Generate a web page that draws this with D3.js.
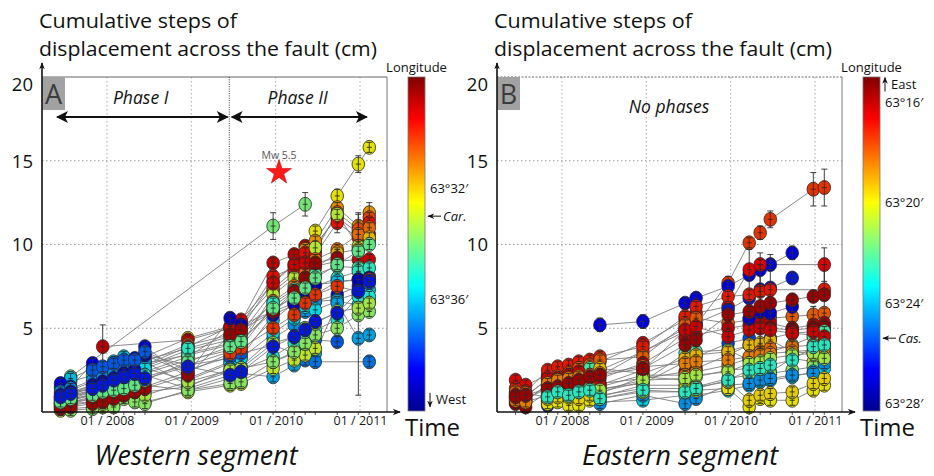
<!DOCTYPE html>
<html>
<head>
<meta charset="utf-8">
<script src="https://cdn.jsdelivr.net/npm/d3@7"></script>
<style>
  body { margin: 0; background: #fff; }
  svg { display: block; }
</style>
</head>
<body>
<svg id="fig" width="934" height="476"></svg>
<script>
// survey epochs (decimal year), shared by both segments
let epochs = [2007.45, 2007.57, 2007.83, 2007.95, 2008.08, 2008.20, 2008.33, 2008.45, 2008.96,
              2009.46, 2009.59, 2009.97, 2010.22, 2010.35, 2010.47, 2010.73, 2010.98, 2011.11];
let yearTicks = [2008, 2009, 2010, 2011];
let yTicks = [5, 10, 15, 20];

// western segment: colour position on the longitude bar (0 = west, 1 = east) and cumulative steps (cm)
let westLon = [0.63, 0.50, 0.92, 0.72, 0.80, 0.86, 0.57, 0.76, 0.68, 0.90, 0.45, 0.42, 0.33, 0.12,
               0.28, 0.36, 0.08, 0.22, 0.40, 0.30, 0.25, 0.58, 0.52, 0.55, 0.82, 0.95, 0.48, 0.15];
let westSteps = [
  [1.1, 1.3, 1.8, 2.0, 2.3, 2.5, 2.7, 3.3, 4.4, 5.1, 5.3, 7.4, 8.4, 9.4, 10.8, 12.9, 14.8, 15.8],
  [null, 2.1, null, null, null, null, null, null, null, null, null, 11.1, null, 12.4, null, null, null, null],
  [null, null, null, 3.9, null, null, null, null, 4.3, 5.0, 5.4, 8.9, 9.4, 9.9, 10.0, 11.6, 10.7, 10.6],
  [0.9, 1.1, 1.6, 1.8, 2.1, 2.4, 2.6, 3.0, 4.0, 4.6, 5.0, 7.8, 8.8, 9.7, 10.2, 12.2, 11.1, 11.9],
  [0.7, 0.9, 1.3, 1.5, 1.7, 2.0, 2.3, 2.7, 3.7, 4.3, 4.7, 7.2, 8.2, 9.0, 9.6, 11.9, 10.9, 11.6],
  [0.5, 0.7, 1.1, 1.3, 1.5, 1.7, 2.0, 2.4, 3.3, 4.9, 5.2, 8.1, 8.6, 9.5, 9.4, 11.3, 10.4, 11.3],
  [0.4, 0.6, 0.9, 1.1, 1.4, 1.6, 1.9, 2.3, 3.1, 3.7, 4.0, 7.0, 8.0, 8.9, 9.8, 11.8, 9.9, 10.2],
  [0.6, 0.8, 1.2, 1.4, 1.6, 1.8, 2.1, 2.6, 3.5, 4.1, 4.5, 6.6, 7.5, 8.3, 9.1, 9.7, 10.6, 11.0],
  [0.3, 0.5, 0.8, 1.0, 1.2, 1.5, 1.7, 2.1, 2.8, 3.6, 3.9, 6.3, 7.2, 8.0, 8.6, 9.5, 9.7, 10.4],
  [0.8, 1.0, 1.5, 1.7, 1.9, 2.2, 2.5, 2.8, 3.9, 5.1, 5.5, 7.7, 8.8, 8.9, 8.7, 9.0, 9.1, 9.1],
  [0.9, 1.2, 1.4, 1.6, 1.9, 2.2, 2.4, 2.9, 3.4, 4.0, 4.3, 6.0, 7.0, 7.6, 8.2, 8.7, 8.6, 8.1],
  [1.4, 1.8, 2.2, 2.5, 2.8, 3.1, 2.9, 3.1, 3.8, 4.5, 4.8, 6.5, 7.3, 7.9, 7.5, 8.0, 8.4, 8.6],
  [1.5, 2.0, 2.6, 2.3, 3.0, 3.3, 3.0, 3.4, 2.8, 3.2, 3.6, 5.5, 6.5, 7.2, 7.0, 7.8, 7.9, 7.3],
  [1.7, 1.5, 2.9, 2.4, 2.6, 2.8, 3.2, 3.9, 2.0, 3.0, 3.3, 5.8, 6.4, 7.0, 6.6, 7.0, 7.5, 7.9],
  [1.2, 1.4, 1.9, 2.1, 2.3, 2.6, 2.8, 3.0, 1.6, 2.4, 2.7, 4.4, 5.2, 6.0, 6.6, 6.7, 7.1, 7.7],
  [0.8, 1.0, 1.3, 1.5, 1.8, 2.0, 2.2, 2.6, 1.9, 2.9, 3.2, 4.7, 5.6, 6.3, 6.1, 6.6, 6.4, 6.6],
  [1.0, 1.2, 1.6, 1.8, 2.0, 2.3, 2.5, 3.4, 2.3, 5.6, 5.2, 6.0, 6.5, 7.2, 7.6, null, 7.9, 8.0],
  [null, null, 2.5, 2.7, 2.9, 3.1, 3.1, 3.6, 2.5, 3.3, 3.5, 4.0, 3.5, 4.0, 4.3, 4.2, null, null],
  [0.7, 0.9, 1.2, 1.4, 1.6, 1.9, 2.1, 2.2, 1.4, 2.2, 2.5, 3.3, 4.1, 4.4, 4.9, 5.5, 6.9, 6.9],
  [0.5, 0.7, 1.0, 1.2, 1.4, 1.6, 1.8, 1.6, 1.3, 2.0, 2.3, 2.1, 2.8, 3.3, 3.5, 6.5, 4.4, 4.6],
  [0.3, 0.4, 0.6, 0.8, 1.0, 1.2, 1.4, 1.2, 1.5, 2.6, 2.6, 3.0, 3.5, 3.1, 3.0, null, null, 3.0],
  [0.1, 0.2, 0.3, 0.3, 0.4, 0.9, 0.7, 0.6, 1.2, 1.6, 1.7, 2.6, 3.1, 3.4, 3.8, null, null, null],
  [0.2, 0.1, 0.2, 0.5, 0.3, 0.8, 0.6, 0.5, 1.3, 1.7, 1.8, 3.0, 3.6, 4.1, 4.6, 5.0, 5.8, 6.0],
  [0.4, 0.5, 0.6, 0.7, 0.9, 1.0, 1.2, 1.0, 1.8, 2.5, 2.6, 4.1, 4.5, 5.0, 5.3, 6.0, 6.2, 6.5],
  [0.5, 0.6, 0.8, 0.9, 1.1, 1.3, 1.4, 1.5, 2.4, 3.5, 3.8, 5.0, 5.8, 6.5, 7.0, 7.5, 7.2, 7.9],
  [0.2, 0.3, 0.5, 0.6, 0.8, 1.0, 1.2, 1.4, 2.2, 4.6, 4.9, 6.0, 7.2, 8.0, 8.9, 9.2, null, null],
  [0.6, 0.8, 1.0, 1.2, 1.3, 1.4, 1.6, 1.9, 3.0, 3.9, 4.2, 6.2, 6.8, 7.4, 8.0, 8.8, 9.6, 10.0],
  [0.9, 1.1, 1.4, 1.6, 1.9, 2.1, 2.3, 2.0, 2.7, 2.2, 2.4, 3.9, 4.5, 4.9, 5.4, 5.9, 7.2, 7.8]
];
// [station, epoch, error (cm)] where the error bar is larger than the default
let westBigErr = [[2, 3, 1.3], [1, 11, 0.8], [1, 13, 0.7], [0, 16, 0.5], [0, 15, 0.4], [15, 16, 5.4],
                  [2, 15, 0.9], [3, 17, 0.6], [4, 16, 1.0], [10, 17, 0.5], [6, 14, 0.4], [9, 15, 0.7]];

// eastern segment
let eastLon = [0.82, 0.12, 0.88, 0.15, 0.85, 0.78, 0.92, 0.20, 0.97, 0.45, 0.68, 0.76,
               0.58, 0.52, 0.35, 0.28, 0.63, 0.65, 0.90, 0.74, 0.10, 0.55, 0.95, 0.42];
let eastSteps = [
  [0.9, 0.8, 1.4, 1.6, 1.8, 2.0, 2.2, 2.5, 3.6, 4.8, 5.2, 7.7, 10.1, 10.7, 11.5, null, 13.3, 13.4],
  [null, null, null, null, null, null, null, 5.2, 5.4, 6.5, 6.8, 7.5, 8.2, 8.5, 8.8, 9.5, null, null],
  [1.9, 1.6, 2.2, 2.4, 2.6, 2.7, 2.8, 3.0, 4.1, 5.5, 5.9, 6.3, 8.5, 8.8, null, null, null, 8.8],
  [null, null, 0.4, null, null, null, null, null, null, 5.0, 5.3, 6.1, 6.8, 7.3, 7.4, 8.0, null, null],
  [1.4, 1.2, 2.5, 2.7, 2.8, 3.0, 3.1, 3.3, 3.9, 5.7, 6.3, 6.9, 7.0, 7.2, 7.3, null, null, 7.3],
  [1.1, 1.0, 1.9, 2.1, 2.3, 2.6, 2.8, 3.1, 3.3, 5.2, 5.6, 5.3, 5.5, 5.5, 5.6, 5.7, 5.8, 5.9],
  [0.6, 0.7, 1.6, 1.8, 2.0, 2.2, 2.4, 2.0, 2.9, 4.4, 4.6, 5.0, 5.2, 5.3, 5.3, 5.0, 5.2, 5.3],
  [null, null, 1.1, 0.8, 1.0, 1.3, 1.5, 1.4, 1.7, 3.0, 3.3, 4.1, 4.4, 4.0, 4.4, 4.7, 4.6, 4.9],
  [0.5, 0.3, 1.2, 1.4, 1.6, 1.7, 1.9, 1.7, 2.0, 2.4, 2.6, 3.4, 4.0, 3.9, 5.0, 4.9, 5.0, 5.1],
  [null, null, 1.3, 1.5, 1.8, 1.5, 2.6, 1.2, 1.8, 3.5, 3.6, 3.7, 3.1, 3.5, 3.6, 4.0, 4.5, 4.8],
  [0.8, 0.6, 1.0, 1.2, 1.4, 1.6, 1.8, 2.6, 2.3, 3.2, 3.4, 3.6, 4.0, 4.1, 4.3, 3.6, 3.5, 3.6],
  [1.2, 1.1, 0.9, 1.1, 1.2, 1.4, 1.6, 1.5, 2.2, 2.2, 2.4, 2.8, 3.2, 3.6, 3.8, 3.9, 4.0, 4.1],
  [null, null, 1.5, 1.7, 1.4, 1.2, 1.3, 1.1, 2.1, 1.9, 2.1, 2.5, 2.6, 2.7, 2.4, 3.2, 3.0, 3.4],
  [null, null, 0.8, 1.0, 1.3, 1.1, 1.0, 0.9, 1.6, 1.6, 1.5, 2.0, 2.2, 2.4, 2.3, 2.5, 2.7, 3.1],
  [null, null, 0.7, 0.7, 0.6, 0.8, 1.1, 0.6, 0.7, 1.0, 1.0, 1.3, 1.6, 1.8, 1.9, 2.1, 2.4, 2.6],
  [null, null, 0.6, 0.9, 0.7, 0.9, 0.9, 0.5, 1.0, 0.5, 0.8, 1.6, 1.7, 1.9, 2.0, 2.2, 2.3, 2.9],
  [null, null, 0.5, 0.6, 0.4, 0.4, 0.7, 0.8, 1.2, 1.2, 1.3, 1.4, 0.3, 0.8, 0.7, 0.7, 1.3, 1.6],
  [null, null, 0.8, 0.9, 0.9, 0.8, 1.0, 1.0, 1.4, 1.4, 1.5, 1.8, 0.7, 1.0, 1.1, 1.2, 1.7, 2.0],
  [1.0, 0.9, 2.0, 2.0, 2.2, 2.4, 1.9, 1.6, 2.5, 4.9, 5.1, 4.5, 4.9, 5.0, 4.9, 4.7, 4.8, 4.5],
  [0.7, 0.6, 1.7, 1.9, 2.0, 2.1, 2.2, 2.3, 2.7, 2.9, 3.0, 3.1, 3.3, 3.4, 3.5, 3.6, 3.7, 3.8],
  [null, null, null, null, null, null, null, null, null, null, null, null, 5.6, 6.0, 5.9, 6.3, null, null],
  [null, null, 1.0, 1.3, 1.1, 1.3, 1.4, 1.3, 1.9, 2.0, 2.2, 2.4, 2.9, 3.0, 3.2, 3.4, 3.5, 3.2],
  [0.9, 1.0, 1.4, 1.5, 1.7, 1.9, 2.1, 2.2, 2.6, 4.0, 4.3, 5.8, 6.0, 6.3, 6.5, 6.7, 6.9, 7.0],
  [null, null, 0.9, 1.2, 1.0, 1.2, 1.3, 0.8, 1.3, 1.2, 1.4, 1.9, 2.5, 2.6, 2.8, 3.1, 3.9, 4.0]
];
let eastBigErr = [[0, 16, 1.0], [0, 17, 1.1], [0, 14, 0.5], [0, 13, 0.4], [0, 11, 0.4], [2, 12, 1.2],
                  [2, 17, 1.0], [1, 15, 0.4], [1, 7, 0.4], [1, 8, 0.4], [1, 13, 1.0], [3, 14, 2.0],
                  [4, 17, 1.5], [22, 13, 2.5], [5, 12, 0.6], [5, 16, 0.5], [7, 14, 0.8]];

// colour bar annotations: [minutes of longitude, text]
let westBarLabels = [[32, "63°32′"], [36, "63°36′"]];
let eastBarLabels = [[16, "63°16′"], [20, "63°20′"], [24, "63°24′"], [28, "63°28′"]];

let font = "'Open Sans', 'Noto Sans', sans-serif";
let svg = d3.select("#fig");
let timeDomain = [2007.23, 2011.32];
let jet = d3.scaleLinear()
    .domain([0, 0.125, 0.375, 0.625, 0.875, 1])
    .range(["#00008f", "#0000ff", "#00ffff", "#ffff00", "#ff0000", "#800000"]);

let defs = svg.append("defs");
defs.append("marker").attr("id", "axhead")
    .attr("viewBox", "0 -5 10 10").attr("refX", 9).attr("refY", 0)
    .attr("markerWidth", 9).attr("markerHeight", 8).attr("markerUnits", "userSpaceOnUse")
    .attr("orient", "auto")
    .append("path").attr("d", "M0,-4L10,0L0,4L3,0Z").attr("fill", "#111");
defs.append("marker").attr("id", "bighead")
    .attr("viewBox", "0 -5 10 10").attr("refX", 9).attr("refY", 0)
    .attr("markerWidth", 14).attr("markerHeight", 12).attr("markerUnits", "userSpaceOnUse")
    .attr("orient", "auto-start-reverse")
    .append("path").attr("d", "M0,-5L10,0L0,5L2.5,0Z").attr("fill", "#111");
defs.append("marker").attr("id", "smallhead")
    .attr("viewBox", "0 -5 10 10").attr("refX", 9).attr("refY", 0)
    .attr("markerWidth", 7).attr("markerHeight", 7).attr("markerUnits", "userSpaceOnUse")
    .attr("orient", "auto")
    .append("path").attr("d", "M0,-4L10,0L0,4L3,0Z").attr("fill", "#111");
let grad = defs.append("linearGradient").attr("id", "jetbar")
    .attr("x1", 0).attr("y1", 1).attr("x2", 0).attr("y2", 0);
grad.selectAll("stop").data(jet.domain()).join("stop")
    .attr("offset", d => d).attr("stop-color", d => jet(d));

function drawPanel(p) {
    let g = svg.append("g");
    let x = d3.scaleLinear().domain(timeDomain).range([p.left, p.left + 345]);
    let y = d3.scaleLinear().domain([0, 20]).range([412, 77]);
    let [x0, x1] = x.range();

    // titles
    g.append("text").attr("x", x0 - 3).attr("y", 28).text("Cumulative steps of")
        .attr("font-family", font).attr("font-size", 20).attr("fill", "#111")
        .attr("textLength", 198).attr("lengthAdjust", "spacingAndGlyphs");
    g.append("text").attr("x", x0 - 3).attr("y", 56).text("displacement across the fault (cm)")
        .attr("font-family", font).attr("font-size", 20).attr("fill", "#111")
        .attr("textLength", 338).attr("lengthAdjust", "spacingAndGlyphs");

    // dotted grid
    g.append("g").selectAll("line").data(yTicks.filter(d => d < 20)).join("line")
        .attr("x1", x0).attr("x2", x1).attr("y1", d => y(d)).attr("y2", d => y(d))
        .attr("stroke", "#8c8c8c").attr("stroke-width", 0.9).attr("stroke-dasharray", "1.5,2.5");
    g.append("g").selectAll("line").data(yearTicks).join("line")
        .attr("x1", d => x(d)).attr("x2", d => x(d)).attr("y1", y(20)).attr("y2", y(0))
        .attr("stroke", "#a0a0a0").attr("stroke-width", 0.9).attr("stroke-dasharray", "1.5,2.5");

    // frame (top and right)
    g.append("line").attr("x1", x0).attr("x2", x1).attr("y1", y(20)).attr("y2", y(20))
        .attr("stroke", "#666").attr("stroke-dasharray", p.dottedTop ? "2,1.5" : null);
    g.append("line").attr("x1", x1).attr("x2", x1).attr("y1", y(20)).attr("y2", y(0))
        .attr("stroke", "#777");

    // panel letter
    g.append("rect").attr("x", x0).attr("y", y(20)).attr("width", 23).attr("height", 33).attr("fill", "#a2a2a2");
    g.append("text").attr("x", x0 + 11.5).attr("y", y(20) + 27).attr("text-anchor", "middle")
        .attr("font-family", font).attr("font-size", 27).attr("fill", "#3c3c3c").text(p.letter);

    if (p.extra) p.extra(g, x, y);

    // stations
    let stations = p.steps.map((vals, i) => ({
        c: p.lon[i],
        pts: vals.map((v, j) => ({t: epochs[j], j: j, v: v, e: 0.3, c: p.lon[i]})).filter(d => d.v != null)
    }));
    p.bigErr.forEach(function (b) {
        let pt = stations[b[0]].pts.find(d => d.j === b[1]);
        if (pt) pt.e = b[2];
    });

    let line = d3.line().x(d => x(d.t)).y(d => y(d.v));
    g.append("g").selectAll("path").data(stations).join("path")
        .attr("d", d => line(d.pts))
        .attr("fill", "none").attr("stroke", "#7d7d7d").attr("stroke-width", 0.9);

    let flat = stations.flatMap(s => s.pts);
    let pts = g.append("g").selectAll("g").data(flat).join("g")
        .attr("transform", d => "translate(" + x(d.t) + "," + y(d.v) + ")");
    pts.append("ellipse").attr("rx", 6.3).attr("ry", 7)
        .attr("fill", d => d3.color(jet(d.c)).darker(0.3)).attr("stroke", "#262626").attr("stroke-width", 0.8);
    pts.append("path")
        .attr("d", function (d) {
            let h = y(0) - y(d.e);
            return "M-3," + (-h) + "H3M0," + (-h) + "V" + h + "M-3," + h + "H3M-2.5,0H2.5";
        })
        .attr("fill", "none").attr("stroke", "#2a2a2a").attr("stroke-width", 0.9);

    // axes
    let xAxis = d3.axisBottom(x).tickValues(yearTicks).tickFormat(d => "01 / " + d)
        .tickSize(0).tickPadding(4);
    let xa = g.append("g").attr("transform", "translate(0," + y(0) + ")").call(xAxis);
    xa.select(".domain").remove();
    xa.selectAll("text").attr("font-family", font).attr("font-size", 12.5).attr("fill", "#1a1a1a");

    let yAxis = d3.axisLeft(y).tickValues(yTicks).tickSize(0).tickPadding(9);
    let ya = g.append("g").attr("transform", "translate(" + x0 + ",0)").call(yAxis);
    ya.select(".domain").remove();
    ya.selectAll("text").attr("font-family", font).attr("font-size", 18.5).attr("fill", "#111")
        .attr("dy", d => d === 20 ? "0.72em" : "0.35em");

    // minor ticks at survey epochs
    g.append("g").selectAll("line").data(epochs).join("line")
        .attr("x1", d => x(d)).attr("x2", d => x(d)).attr("y1", y(0)).attr("y2", y(0) + 3)
        .attr("stroke", "#333").attr("stroke-width", 0.8);

    g.append("line").attr("x1", x0).attr("x2", x0).attr("y1", y(0)).attr("y2", 63)
        .attr("stroke", "#111").attr("stroke-width", 1.6).attr("marker-end", "url(#smallhead)");
    g.append("line").attr("x1", x0).attr("x2", x0 + 358).attr("y1", y(0)).attr("y2", y(0))
        .attr("stroke", "#111").attr("stroke-width", 1.6).attr("marker-end", "url(#axhead)");
    g.append("text").attr("x", x0 + 363).attr("y", 436).text("Time")
        .attr("font-family", font).attr("font-size", 24).attr("fill", "#111");

    // segment caption
    g.append("text").attr("x", p.captionX).attr("y", 465).attr("text-anchor", "middle")
        .attr("font-family", font).attr("font-size", 28).attr("font-style", "italic").attr("fill", "#111")
        .attr("textLength", p.captionW).attr("lengthAdjust", "spacingAndGlyphs").text(p.caption);

    // colour bar
    let cb = d3.scaleLinear().domain(p.barDomain).range([77, 411]);
    g.append("rect").attr("x", p.barX).attr("y", 77).attr("width", 17).attr("height", 334)
        .attr("fill", "url(#jetbar)").attr("stroke", "#777").attr("stroke-width", 0.8);
    g.append("text").attr("x", p.barX + 8.5).attr("y", 72).attr("text-anchor", "middle")
        .attr("font-family", font).attr("font-size", 13).attr("fill", "#111").text("Longitude");
    g.append("g").selectAll("text").data(p.barLabels).join("text")
        .attr("x", p.barX + 22).attr("y", d => cb(d[0])).attr("dy", "0.35em")
        .attr("font-family", font).attr("font-size", 13).attr("fill", "#111").text(d => d[1]);
    // town marker (Car. / Cas.)
    let ty = cb(p.town[0]);
    g.append("line").attr("x1", p.barX + 33).attr("x2", p.barX + 20).attr("y1", ty).attr("y2", ty)
        .attr("stroke", "#111").attr("stroke-width", 1).attr("marker-end", "url(#smallhead)");
    g.append("text").attr("x", p.barX + 35).attr("y", ty).attr("dy", "0.35em")
        .attr("font-family", font).attr("font-size", 13).attr("font-style", "italic").attr("fill", "#111")
        .text(p.town[1]);
    // direction hint (West / East)
    let dy = cb(p.dir[0]);
    let up = p.dir[2];
    g.append("line").attr("x1", p.barX + 22).attr("x2", p.barX + 22)
        .attr("y1", up ? dy + 7 : dy - 7).attr("y2", up ? dy - 7 : dy + 7)
        .attr("stroke", "#111").attr("stroke-width", 1).attr("marker-end", "url(#smallhead)");
    g.append("text").attr("x", p.barX + 28).attr("y", dy).attr("dy", "0.35em")
        .attr("font-family", font).attr("font-size", 13).attr("fill", "#111").text(p.dir[1]);
}

// Western segment: two phases and the Mw 5.5 event
drawPanel({
    left: 42, letter: "A", lon: westLon, steps: westSteps, bigErr: westBigErr,
    caption: "Western segment", captionX: 196, captionW: 203,
    barX: 408, barDomain: [28, 40], barLabels: westBarLabels,
    town: [33, "Car."], dir: [39.6, "West", false],
    extra: function (g, x, y) {
        g.append("line").attr("x1", x(2009.45)).attr("x2", x(2009.45)).attr("y1", y(20)).attr("y2", y(6.5))
            .attr("stroke", "#333").attr("stroke-width", 1).attr("stroke-dasharray", "1,1.3");
        let phases = [[2007.41, 2009.43, "Phase I", 2008.40], [2009.48, 2011.08, "Phase II", 2010.26]];
        phases.forEach(function (ph) {
            g.append("line").attr("x1", x(ph[0])).attr("x2", x(ph[1])).attr("y1", 117).attr("y2", 117)
                .attr("stroke", "#111").attr("stroke-width", 2)
                .attr("marker-start", "url(#bighead)").attr("marker-end", "url(#bighead)");
            g.append("text").attr("x", x(ph[3])).attr("y", 104).attr("text-anchor", "middle")
                .attr("font-family", font).attr("font-size", 17.5).attr("font-style", "italic")
                .attr("fill", "#111").text(ph[2]);
        });
        g.append("path").attr("d", d3.symbol(d3.symbolStar, 190)())
            .attr("transform", "translate(" + x(2010.04) + "," + y(14.3) + ")")
            .attr("fill", "#ff1a1a").attr("stroke", "#c00").attr("stroke-width", 0.6);
        g.append("text").attr("x", x(2010.04)).attr("y", y(14.3) - 13).attr("text-anchor", "middle")
            .attr("font-family", font).attr("font-size", 10.5).attr("fill", "#555").text("Mw 5.5");
    }
});

// Eastern segment
drawPanel({
    left: 497, letter: "B", lon: eastLon, steps: eastSteps, bigErr: eastBigErr, dottedTop: true,
    caption: "Eastern segment", captionX: 680, captionW: 196,
    barX: 863, barDomain: [15, 28.3], barLabels: eastBarLabels,
    town: [25.4, "Cas."], dir: [15.3, "East", true],
    extra: function (g, x) {
        g.append("text").attr("x", x(2009.27)).attr("y", 113).attr("text-anchor", "middle")
            .attr("font-family", font).attr("font-size", 17.5).attr("font-style", "italic")
            .attr("fill", "#111").text("No phases");
    }
});
</script>
</body>
</html>
